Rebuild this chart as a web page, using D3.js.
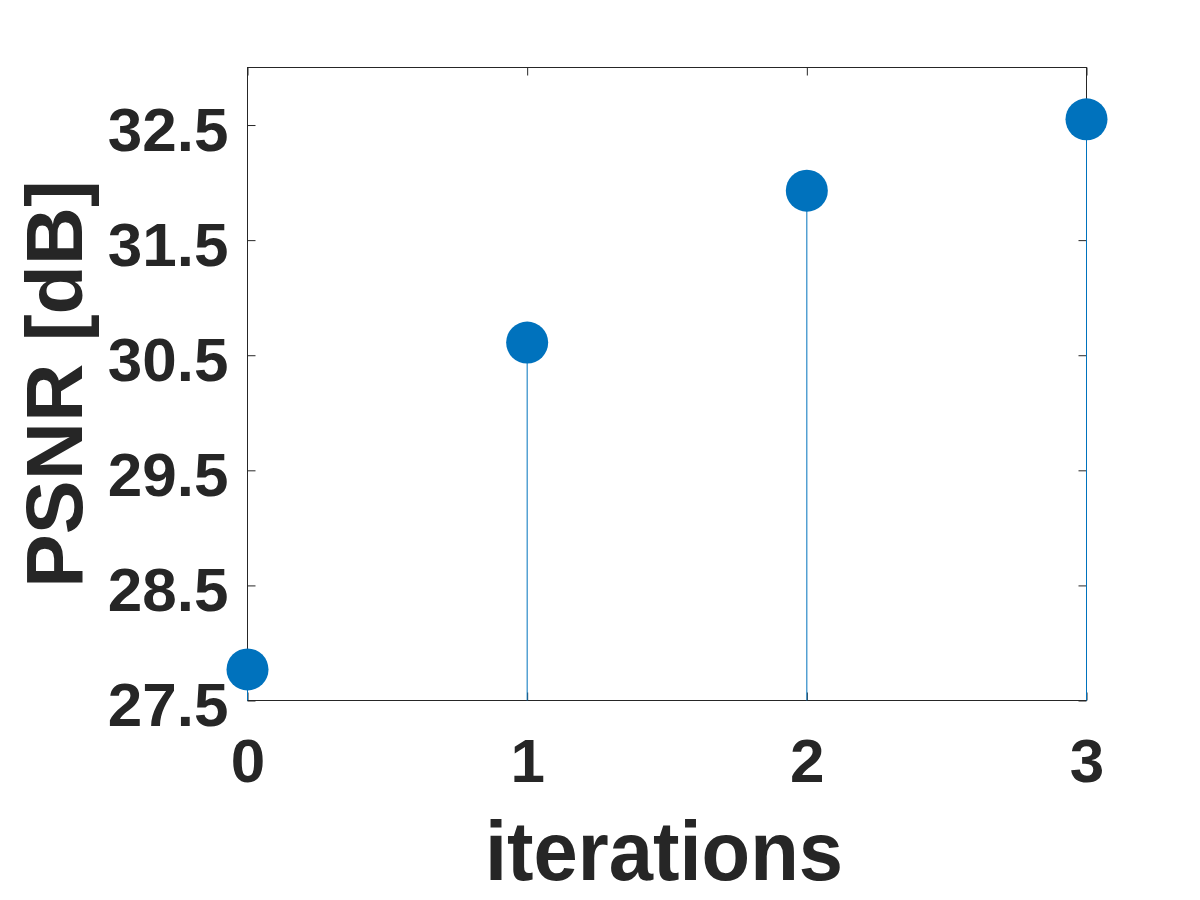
<!DOCTYPE html>
<html>
<head>
<meta charset="utf-8">
<script src="https://cdn.jsdelivr.net/npm/d3@7"></script>
<style>
  html, body { margin: 0; padding: 0; background: #fff; }
  svg { display: block; }
  text { font-family: "Liberation Sans", Arial, Helvetica, sans-serif; font-weight: bold; fill: #262626; }
</style>
</head>
<body>
<script>
// ---- data ----
const iterations = [0, 1, 2, 3];
const psnr = [27.77, 30.61, 31.93, 32.55];
const xTicks = [0, 1, 2, 3];
const yTicks = [27.5, 28.5, 29.5, 30.5, 31.5, 32.5];
const yDomain = [27.5, 33];
const xLabel = "iterations";
const yLabel = "PSNR [dB]";

const W = 1200, H = 900;
const L = 247.5, R = 1086.5, T = 67.5, B = 700.5;
const blue = "#0072BD", ink = "#262626";

const svg = d3.select("body").append("svg").attr("width", W).attr("height", H);

const x = d3.scaleLinear().domain([0, 3]).range([L, R]);
const y = d3.scaleLinear().domain(yDomain).range([B, T]);

// box
svg.append("rect").attr("x", L).attr("y", T).attr("width", R - L).attr("height", B - T)
  .attr("fill", "none").attr("stroke", ink).attr("stroke-width", 1);

const tickLen = 8;
// axes with inward ticks
const gB = svg.append("g").attr("transform", `translate(0,${B})`)
  .call(d3.axisBottom(x).tickValues(xTicks).tickSize(-tickLen).tickFormat(d3.format("d")));
const gT = svg.append("g").attr("transform", `translate(0,${T})`)
  .call(d3.axisTop(x).tickValues(xTicks).tickSize(-tickLen).tickFormat(""));
const gL = svg.append("g").attr("transform", `translate(${L},0)`)
  .call(d3.axisLeft(y).tickValues(yTicks).tickSize(-tickLen).tickPadding(19).tickFormat(d3.format(".1f")));
const gR = svg.append("g").attr("transform", `translate(${R},0)`)
  .call(d3.axisRight(y).tickValues(yTicks).tickSize(-tickLen).tickFormat(""));

[gB, gT, gL, gR].forEach(g => {
  g.select(".domain").remove();
  g.selectAll(".tick line").attr("stroke", ink).attr("stroke-width", 1);
  g.selectAll(".tick text").attr("fill", ink).style("font-size", "62px")
    .style("font-family", '"Liberation Sans", Arial, sans-serif').style("font-weight", "bold");
});
gB.selectAll(".tick text").attr("dy", null).attr("y", 0).attr("transform", "translate(0,81)");
gL.selectAll(".tick text").attr("dy", null).attr("transform", "translate(0,25)");

// stems
svg.append("g").selectAll("line").data(iterations).join("line")
  .attr("x1", d => x(d)).attr("x2", d => x(d))
  .attr("y1", y(yDomain[0])).attr("y2", (d, i) => y(psnr[i]))
  .attr("stroke", blue).attr("stroke-width", 1);

// markers
svg.append("g").selectAll("circle").data(iterations).join("circle")
  .attr("cx", d => x(d)).attr("cy", (d, i) => y(psnr[i]))
  .attr("r", 21).attr("fill", blue);

// axis labels
svg.append("text").attr("x", (L + R) / 2 - 3).attr("y", 880)
  .attr("text-anchor", "middle").style("font-size", "84px")
  .attr("textLength", 358).attr("lengthAdjust", "spacingAndGlyphs")
  .text(xLabel);

svg.append("text").attr("transform", "translate(82,384) rotate(-90)")
  .attr("text-anchor", "middle").style("font-size", "80px")
  .attr("textLength", 408).attr("lengthAdjust", "spacingAndGlyphs")
  .text(yLabel);
</script>
</body>
</html>
